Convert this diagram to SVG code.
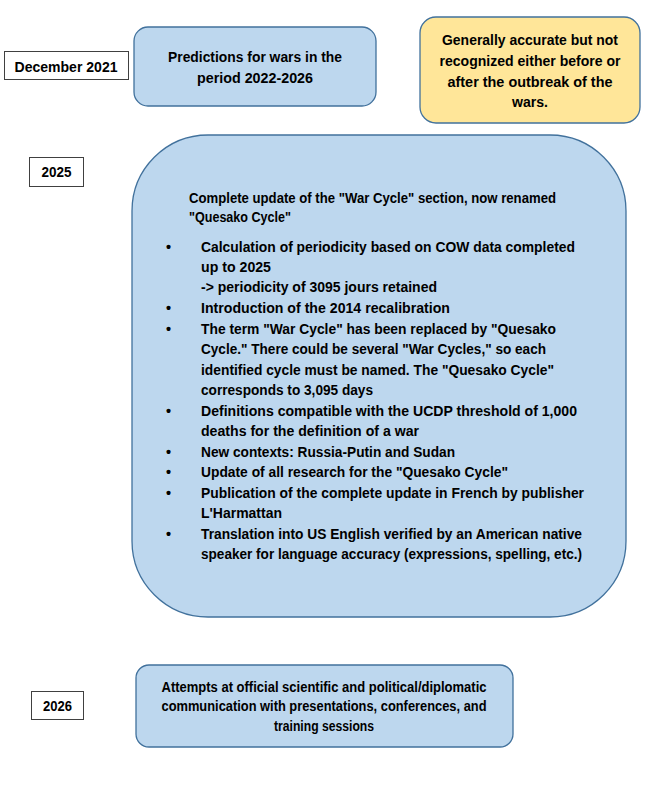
<svg xmlns="http://www.w3.org/2000/svg" width="655" height="803" viewBox="0 0 655 803">
<style>
text{font-family:"Liberation Sans",Arial,sans-serif;font-weight:bold;font-size:14.5px;fill:#000}
.c{text-anchor:middle}
.blue{fill:#BDD7EE;stroke:#41719C;stroke-width:1.3}
.yellow{fill:#FFE699;stroke:#41719C;stroke-width:1.3}
.year{fill:#FFFFFF;stroke:#404040;stroke-width:1}
</style>
<rect width="655" height="803" fill="#FFFFFF"/>
<g id="connectors"></g>
<g id="year2021">
<rect class="year" x="4.5" y="51.5" width="124" height="28"/>
<text class="c" x="66" y="72" textLength="103" lengthAdjust="spacingAndGlyphs">December 2021</text>
</g>
<g id="predictions">
<rect class="blue" x="134" y="27" width="242" height="79" rx="14"/>
<text class="c" x="255" y="62" textLength="174" lengthAdjust="spacingAndGlyphs">Predictions for wars in the</text>
<text class="c" x="255" y="83" textLength="116" lengthAdjust="spacingAndGlyphs">period 2022-2026</text>
</g>
<g id="assessment">
<rect class="yellow" x="420" y="17" width="220" height="106" rx="16"/>
<text class="c" x="530" y="45" textLength="176" lengthAdjust="spacingAndGlyphs">Generally accurate but not</text>
<text class="c" x="530" y="66" textLength="181" lengthAdjust="spacingAndGlyphs">recognized either before or</text>
<text class="c" x="530" y="87" textLength="165" lengthAdjust="spacingAndGlyphs">after the outbreak of the</text>
<text class="c" x="530" y="107" textLength="36" lengthAdjust="spacingAndGlyphs">wars.</text>
</g>
<g id="year2025">
<rect class="year" x="29.5" y="157.5" width="54" height="29"/>
<text class="c" x="56.5" y="177" textLength="30" lengthAdjust="spacingAndGlyphs">2025</text>
</g>
<g id="update2025">
<rect class="blue" x="132" y="135" width="494" height="482" rx="76"/>
<text x="189" y="203" textLength="367" lengthAdjust="spacingAndGlyphs">Complete update of the "War Cycle" section, now renamed</text>
<text x="189" y="222" textLength="102" lengthAdjust="spacingAndGlyphs">"Quesako Cycle"</text>
<g>
<text x="166" y="252">•</text>
<text x="166" y="313">•</text>
<text x="166" y="334">•</text>
<text x="166" y="416">•</text>
<text x="166" y="457">•</text>
<text x="166" y="477">•</text>
<text x="166" y="498">•</text>
<text x="166" y="539">•</text>
</g>
<text x="201" y="252" textLength="374" lengthAdjust="spacingAndGlyphs">Calculation of periodicity based on COW data completed</text>
<text x="201" y="272" textLength="70" lengthAdjust="spacingAndGlyphs">up to 2025</text>
<text x="201" y="292" textLength="236" lengthAdjust="spacingAndGlyphs">-&gt; periodicity of 3095 jours retained</text>
<text x="201" y="313" textLength="249" lengthAdjust="spacingAndGlyphs">Introduction of the 2014 recalibration</text>
<text x="201" y="334" textLength="355" lengthAdjust="spacingAndGlyphs">The term "War Cycle" has been replaced by "Quesako</text>
<text x="201" y="354" textLength="345" lengthAdjust="spacingAndGlyphs">Cycle." There could be several "War Cycles," so each</text>
<text x="201" y="375" textLength="353" lengthAdjust="spacingAndGlyphs">identified cycle must be named. The "Quesako Cycle"</text>
<text x="201" y="395" textLength="172" lengthAdjust="spacingAndGlyphs">corresponds to 3,095 days</text>
<text x="201" y="416" textLength="376" lengthAdjust="spacingAndGlyphs">Definitions compatible with the UCDP threshold of 1,000</text>
<text x="201" y="436" textLength="218" lengthAdjust="spacingAndGlyphs">deaths for the definition of a war</text>
<text x="201" y="457" textLength="254" lengthAdjust="spacingAndGlyphs">New contexts: Russia-Putin and Sudan</text>
<text x="201" y="477" textLength="307" lengthAdjust="spacingAndGlyphs">Update of all research for the "Quesako Cycle"</text>
<text x="201" y="498" textLength="383" lengthAdjust="spacingAndGlyphs">Publication of the complete update in French by publisher</text>
<text x="201" y="518" textLength="81" lengthAdjust="spacingAndGlyphs">L'Harmattan</text>
<text x="201" y="539" textLength="381" lengthAdjust="spacingAndGlyphs">Translation into US English verified by an American native</text>
<text x="201" y="559" textLength="381" lengthAdjust="spacingAndGlyphs">speaker for language accuracy (expressions, spelling, etc.)</text>
</g>
<g id="year2026">
<rect class="year" x="31.5" y="691.5" width="52" height="28"/>
<text class="c" x="57.5" y="711" textLength="29" lengthAdjust="spacingAndGlyphs">2026</text>
</g>
<g id="communication">
<rect class="blue" x="136" y="665" width="377" height="82" rx="13"/>
<text class="c" x="324" y="692" textLength="325" lengthAdjust="spacingAndGlyphs">Attempts at official scientific and political/diplomatic</text>
<text class="c" x="324" y="711" textLength="325" lengthAdjust="spacingAndGlyphs">communication with presentations, conferences, and</text>
<text class="c" x="324" y="731" textLength="100" lengthAdjust="spacingAndGlyphs">training sessions</text>
</g>
</svg>
